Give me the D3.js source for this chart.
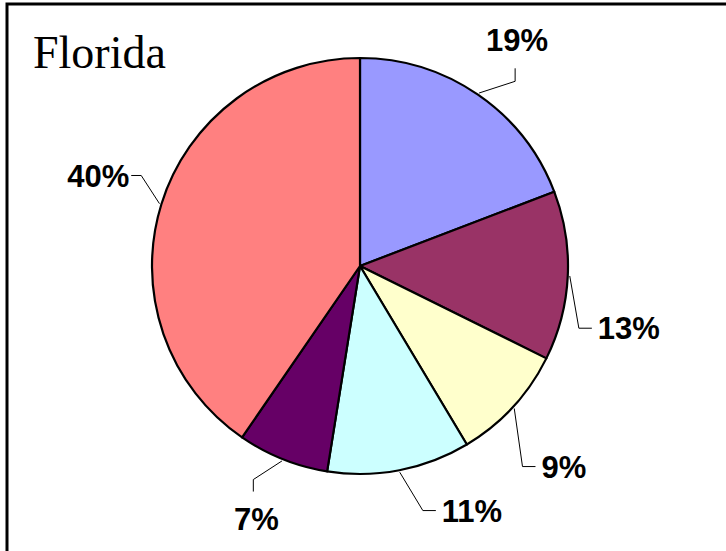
<!DOCTYPE html>
<html>
<head>
<meta charset="utf-8">
<script src="https://cdn.jsdelivr.net/npm/d3@7"></script>
<style>
  body { margin: 0; background: #fff; }
  svg { display: block; }
</style>
</head>
<body>
<div id="chart"></div>
<script>
var width = 726,
    height = 551;

// slices, clockwise from 12 o'clock
var labels = ["19%", "13%", "9%", "11%", "7%", "40%"];
var values = [19, 13, 9, 11, 7, 40];
var colors = ["#9999FF", "#993366", "#FFFFCC", "#CCFFFF", "#660066", "#FF8080"];

// label placement: angle nudge (deg) off the slice middle, distance from centre, leader direction
var labelNudge = [0.3, 10.3, 1.8, -13.7, 0.5, 1.8];
var labelDist = [275, 276, 286, 269, 273, 277];
var leaderDir = ["v", "h", "h", "h", "v", "h"];

var cx = 360, cy = 266, radius = 208;

var svg = d3.select("#chart")
    .append("svg")
    .attr("width", width)
    .attr("height", height);

// frame (only top and left edges show)
svg.append("rect")
    .attr("x", 7)
    .attr("y", 4)
    .attr("width", 760)
    .attr("height", 600)
    .style("fill", "none")
    .style("stroke", "#000")
    .style("stroke-width", 3);

svg.append("text")
    .attr("x", 33)
    .attr("y", 68)
    .style("font-family", "'Liberation Serif', 'Times New Roman', serif")
    .style("font-size", "46px")
    .text("Florida");

var pie = d3.pie().sort(null).value(function(d) { return d; });
var arcs = pie(values);
var arc = d3.arc().innerRadius(0).outerRadius(radius);

var g = svg.append("g").attr("transform", "translate(" + cx + "," + cy + ")");

g.selectAll("path")
    .data(arcs)
    .enter()
    .append("path")
    .attr("d", arc)
    .style("fill", function(d, i) { return colors[i]; })
    .style("stroke", "#000")
    .style("stroke-width", 2.2)
    .style("stroke-linejoin", "round");

function polar(a, r) {
    return [r * Math.sin(a), -r * Math.cos(a)];
}

var fontSize = 31;
var halfH = 12; // half glyph height of digits

arcs.forEach(function(d, i) {
    var mid = (d.startAngle + d.endAngle) / 2;
    var la = mid + labelNudge[i] * Math.PI / 180;
    var lp = polar(la, labelDist[i]);
    var start = polar(mid, radius + 2);

    var t = g.append("text")
        .attr("x", lp[0])
        .attr("y", lp[1] + halfH - 1)
        .attr("text-anchor", "middle")
        .style("font-family", "'Liberation Sans', Arial, sans-serif")
        .style("font-weight", "bold")
        .style("font-size", fontSize + "px")
        .text(labels[i]);

    var bb = t.node().getBBox();
    var end, knee;
    if (leaderDir[i] == "v") {
        if (lp[1] < start[1]) {
            end = [lp[0] - 2, lp[1] + halfH + 16];
            knee = [end[0], end[1] + 13];
        } else {
            end = [lp[0] - 3, lp[1] - halfH - 15];
            knee = [end[0], end[1] - 12];
        }
    } else {
        if (lp[0] > start[0]) {
            end = [bb.x - 6, lp[1]];
            knee = [end[0] - 13, end[1]];
        } else {
            end = [bb.x + bb.width + 2, lp[1]];
            knee = [end[0] + 10, end[1]];
        }
    }

    g.append("path")
        .attr("d", d3.line()([start, knee, end]))
        .style("fill", "none")
        .style("stroke", "#000")
        .style("stroke-width", 1);
});
</script>
</body>
</html>
